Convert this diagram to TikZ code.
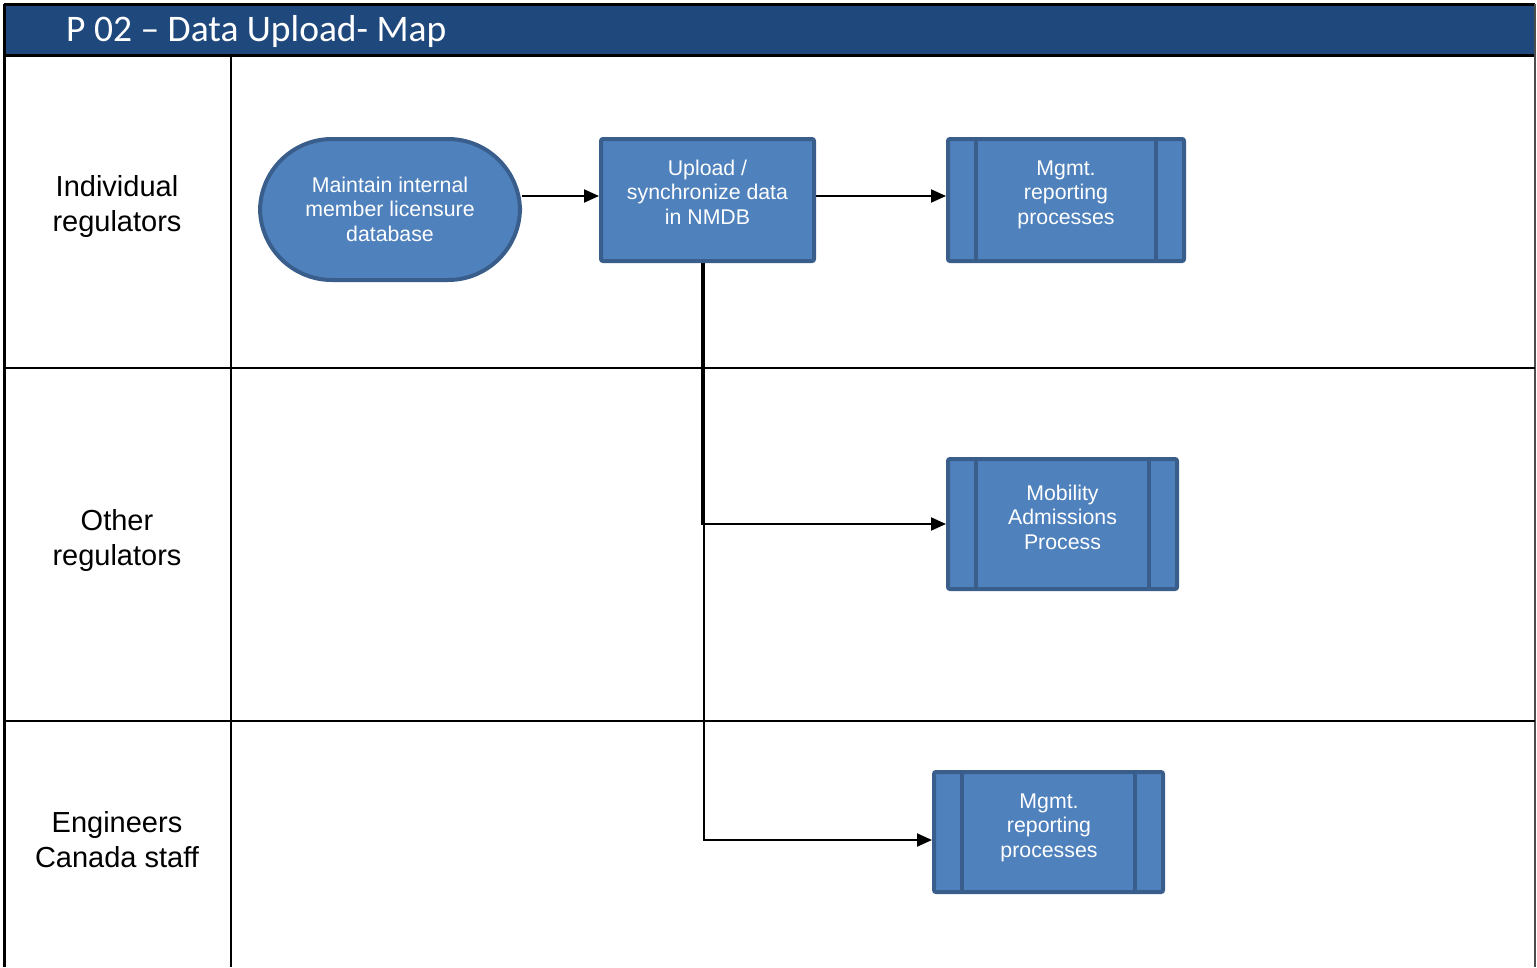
\documentclass[tikz,border=0pt]{standalone}
\usepackage{fontspec}
\setmainfont{Liberation Sans}
\newfontfamily\titlefont{Carlito}
\usetikzlibrary{arrows.meta}

\definecolor{titleblue}{RGB}{31,73,125}
\definecolor{boxfill}{RGB}{79,129,189}
\definecolor{boxedge}{RGB}{58,94,140}

\tikzset{
  lanerule/.style={line width=2pt, black},
  lanelabel/.style={align=center, font=\fontsize{29}{35}\selectfont, inner sep=0pt},
  procbox/.style={draw=boxedge, fill=boxfill, line width=4pt, rounded corners=2pt, inner sep=0pt},
  termbox/.style={draw=boxedge, fill=boxfill, line width=4pt, rounded corners=72pt, inner sep=0pt},
  boxtext/.style={align=center, text=white, font=\fontsize{21.3}{24.5}\selectfont, inner sep=0pt},
  subbar/.style={draw=boxedge, line width=4pt},
  flow/.style={line width=2pt, black, -{Triangle[length=15pt, width=13pt]}},
}

\begin{document}
\begin{tikzpicture}[x=1pt, y=-1pt]
\useasboundingbox (0,0) rectangle (1537,967);

% title bar
\fill[titleblue] (4,4) rectangle (1535,55);
\node[anchor=west, text=white, font=\titlefont\fontsize{37.5}{40}\selectfont, inner sep=0pt] (title) at (66,31) {P 02 – Data Upload- Map};

% frame and swimlanes
\draw[line width=3pt] (4,4) -- (1535,4);
\draw[line width=3pt] (4,55) -- (1535,55);
\draw[line width=3pt] (4,4) -- (4,967);
\draw[line width=1.5pt, black!70] (1535,4) -- (1535,967);
\draw[lanerule] (231,55) -- (231,967);
\draw[lanerule] (4,368) -- (1535,368);
\draw[lanerule] (4,721) -- (1535,721);

\node[lanelabel] (lane1) at (117,206.5) {Individual\\regulators};
\node[lanelabel] (lane2) at (117,540) {Other\\regulators};
\node[lanelabel] (lane3) at (117,839.5) {Engineers\\Canada staff};

% process shapes
\node[termbox, minimum width=260pt, minimum height=141pt] (maintain) at (390,209.5) {};
\node[boxtext] (maintaint) at (390,209) {Maintain internal\\member licensure\\database};

\node[procbox, minimum width=213pt, minimum height=122pt] (upload) at (707.5,200) {};
\node[boxtext] (uploadt) at (707.5,192) {Upload /\\synchronize data\\in NMDB};

\node[procbox, minimum width=236pt, minimum height=122pt] (mgmta) at (1066,200) {};
\node[boxtext] (mgmtat) at (1066,194.5) {Mgmt.\\reporting\\processes};

\node[procbox, minimum width=229pt, minimum height=130pt] (mobility) at (1062.5,524) {};
\node[boxtext] (mobilityt) at (1062.5,517) {Mobility\\Admissions\\Process};

\node[procbox, minimum width=229pt, minimum height=120pt] (mgmtb) at (1048.5,832) {};
\node[boxtext] (mgmtbt) at (1049,827.5) {Mgmt.\\reporting\\processes};

% side bars of the predefined-process boxes
\foreach \b in {mgmta, mobility, mgmtb}{
  \draw[subbar] ([xshift=30pt]\b.north west) -- ([xshift=30pt]\b.south west);
  \draw[subbar] ([xshift=-30pt]\b.north east) -- ([xshift=-30pt]\b.south east);
}

% connectors
\coordinate (split1) at ([xshift=-6pt]upload.south);
\coordinate (split2) at ([xshift=-4pt]upload.south);
\draw[flow] (maintain.east |- 0,196) -- (upload.west |- 0,196);
\draw[flow] (upload.east |- 0,196) -- (mgmta.west |- 0,196);
\draw[flow] (split1) |- (mobility.west);
\draw[flow] (split2) |- ([yshift=-8pt]mgmtb.west);
\end{tikzpicture}
\end{document}
